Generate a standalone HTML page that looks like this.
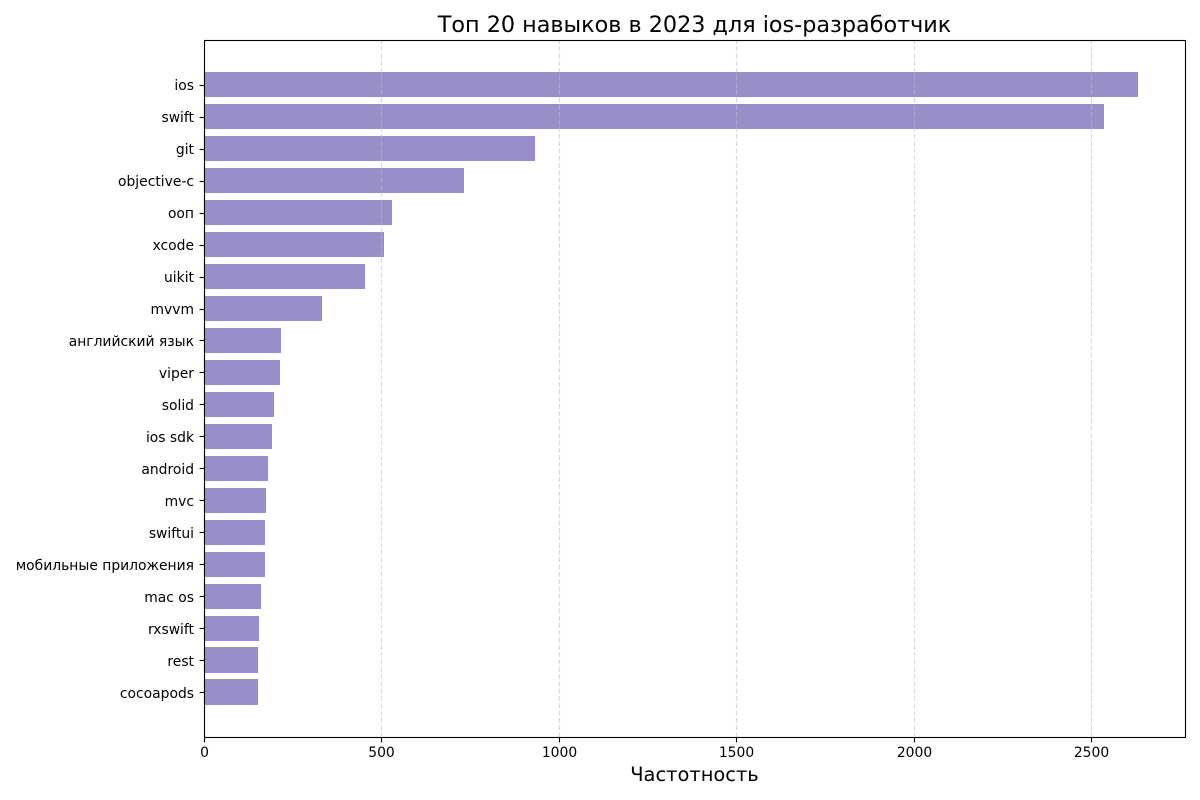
<!DOCTYPE html>
<html lang="ru">
<head>
<meta charset="utf-8">
<title>Топ 20 навыков в 2023 для ios-разработчик</title>
<style>
html,body{margin:0;padding:0;background:#fff;width:1200px;height:800px;overflow:hidden}
svg{display:block}
text{font-family:"DejaVu Sans","Liberation Sans",sans-serif;fill:#000}
</style>
</head>
<body>
<svg id="chart" xmlns="http://www.w3.org/2000/svg" width="1200" height="800" viewBox="0 0 1200 800">
  <rect x="0" y="0" width="1200" height="800" fill="#ffffff"/>
  <g id="bars"></g>
  <g id="grid"></g>
  <g id="yaxis"></g>
  <g id="xaxis"></g>
  <rect x="204.5" y="40.5" width="981" height="697" fill="none" stroke="#000" stroke-width="1.11"/>
  <text x="694.5" y="32" text-anchor="middle" font-size="22.3">Топ 20 навыков в 2023 для ios-разработчик</text>
  <text x="694.5" y="781" text-anchor="middle" font-size="19.44">Частотность</text>
</svg>
<script>
const categories = ["ios","swift","git","objective-c","ооп","xcode","uikit","mvvm","английский язык","viper","solid","ios sdk","android","mvc","swiftui","мобильные приложения","mac os","rxswift","rest","cocoapods"];
const frequencies = [2633,2537,932,733,529,507,453,332,217,214,197,191,180,174,171,171,160,155,152,152];
const xTicks = [0,500,1000,1500,2000,2500];

const plotLeft = 204.5, plotWidth = 981, plotTop = 40.19, plotHeight = 696.52;
const xMax = Math.max(...frequencies) * 1.05;
const yMin = -0.4 - 0.05 * (categories.length - 0.2);
const yMax = categories.length - 0.6 + 0.05 * (categories.length - 0.2);
const barThickness = 0.8;
const NS = "http://www.w3.org/2000/svg";

function xScale(v) { return plotLeft + v / xMax * plotWidth; }
function yScale(i) { return plotTop + (i - yMin) / (yMax - yMin) * plotHeight; }
function mk(tag, attrs, parent) {
  const el = document.createElementNS(NS, tag);
  for (const k in attrs) el.setAttribute(k, attrs[k]);
  parent.appendChild(el);
  return el;
}

const gridG = document.getElementById("grid");
const barsG = document.getElementById("bars");
const yG = document.getElementById("yaxis");
const xG = document.getElementById("xaxis");

xTicks.forEach(function (t) {
  const px = Math.floor(xScale(t)) + 0.5;
  if (t > 0) {
    const g = mk("line", {x1: px, x2: px, y1: 737.5, y2: 40.5, stroke: "#c0c0c0", "stroke-opacity": 0.6, "stroke-width": 1.11, "stroke-dasharray": "5.1 2.2"}, gridG);
    
    
  }
  const tick = mk("line", {x1: px, x2: px, y1: 737.5, y2: 742.4, stroke: "#000", "stroke-width": 1.11}, xG);
  
  
  const label = mk("text", {x: px, y: 757, "text-anchor": "middle", "font-size": 13.89}, xG);
  label.textContent = String(t);
  
  
});

categories.forEach(function (name, i) {
  const cy = yScale(i);
  const half = barThickness / 2 * (plotHeight / (yMax - yMin));
  const top = Math.round(cy - half);
  const bottom = Math.round(cy + half);
  const right = Math.floor(xScale(frequencies[i]));
  const bar = mk("rect", {x: 205, y: top, width: right - 205, height: bottom - top, fill: "#6c5fb0", "fill-opacity": 0.7}, barsG);
  
  
  const tickY = Math.round(cy) + 0.5;
  const tick = mk("line", {x1: 199.6, x2: 204.5, y1: tickY, y2: tickY, stroke: "#000", "stroke-width": 1.11}, yG);
  
  
  const label = mk("text", {x: 194, y: Math.ceil(cy) + 5, "text-anchor": "end", "font-size": 13.89}, yG);
  label.textContent = name;
  
  
});
</script>
</body>
</html>
